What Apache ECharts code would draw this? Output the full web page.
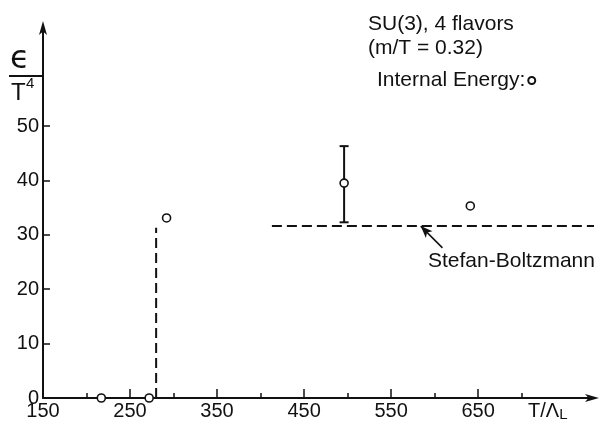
<!DOCTYPE html>
<html>
<head>
<meta charset="utf-8">
<script src="https://cdn.jsdelivr.net/npm/echarts@6/dist/echarts.min.js"></script>
<style>
html,body{margin:0;padding:0;background:#fff;}
#chart{width:602px;height:427px;}
</style>
</head>
<body>
<div id="chart"></div>
<script>
// ---- data ----
const temperatures = [217, 272, 292, 496, 641];          // T / Lambda_L
const energyValues = [0, 0, 33.1, 39.5, 35.3];            // epsilon / T^4
const errorBars = [[496, 32.3, 46.3]];                    // [T, low, high]
const stefanBoltzmannLevel = 31.6;
const stefanBoltzmannRange = [413, 792];
const transitionT = 280;
const transitionTop = 31.3;
const arrowFrom = [609, 27.6];
const arrowTo = [584, 31.6];
const xLabelValues = [150, 250, 350, 450, 550, 650];
const xMajorTicks = [250, 350, 450, 550, 650];
const xMinorTicks = [200, 300, 400, 500, 600, 700];
const yLabelValues = [0, 10, 20, 30, 40, 50];
const yTickValues = [10, 20, 30, 40, 50];

const FONT = '"Liberation Sans", Arial, sans-serif';
const INK = '#111';

const chart = echarts.init(document.getElementById('chart'), null, {renderer: 'canvas'});

const scatterData = temperatures.map((t, i) => [t, energyValues[i]]);

chart.setOption({
  animation: false,
  backgroundColor: '#fff',
  grid: {left: 43, right: 9, top: 27, bottom: 29, containLabel: false},
  legend: {
    data: ['Internal Energy:'],
    left: 372, top: 65,
    align: 'right',
    itemWidth: 7, itemHeight: 7, itemGap: 0,
    textStyle: {fontFamily: FONT, fontSize: 21, color: INK, padding: [0, -2, 0, 0]},
    selectedMode: false
  },
  xAxis: [{
    type: 'value', min: 150, max: 782,
    axisLine: {show: true, lineStyle: {color: INK, width: 2}, symbol: ['none', 'arrow'], symbolSize: [6, 14], symbolOffset: [0, 6]},
    axisTick: {show: true, inside: true, length: 9, lineStyle: {color: INK, width: 1.5}, customValues: xMajorTicks},
    axisLabel: {show: true, fontFamily: FONT, fontSize: 20, color: INK, margin: 3, customValues: xLabelValues},
    splitLine: {show: false}
  }, {
    type: 'value', min: 150, max: 782, position: 'bottom',
    axisLine: {show: false},
    axisTick: {show: true, inside: true, length: 5, lineStyle: {color: INK, width: 1.5}, customValues: xMinorTicks},
    axisLabel: {show: false},
    splitLine: {show: false}
  }],
  yAxis: {
    type: 'value', min: 0, max: 68.2,
    axisLine: {show: true, lineStyle: {color: INK, width: 2}, symbol: ['none', 'arrow'], symbolSize: [6, 14], symbolOffset: [0, 6]},
    axisTick: {show: true, inside: true, length: 7, lineStyle: {color: INK, width: 1.5}, customValues: yTickValues},
    axisLabel: {show: true, fontFamily: FONT, fontSize: 20, color: INK, margin: 4, customValues: yLabelValues},
    splitLine: {show: false}
  },
  series: [
    {
      type: 'line', name: 'transition', silent: true, clip: false, symbol: 'none',
      data: [[transitionT, 0], [transitionT, transitionTop]],
      lineStyle: {color: INK, width: 2, type: [10, 5]}, z: 3
    },
    {
      type: 'line', name: 'Stefan-Boltzmann', silent: true, clip: false, symbol: 'none',
      data: [[stefanBoltzmannRange[0], stefanBoltzmannLevel], [stefanBoltzmannRange[1], stefanBoltzmannLevel]],
      lineStyle: {color: INK, width: 2, type: [10, 5]}, z: 3,
      markLine: {
        silent: true, symbol: ['none', 'arrow'], symbolSize: [7, 12],
        label: {show: false},
        lineStyle: {color: INK, width: 1.5, type: 'solid'},
        data: [[{coord: arrowFrom}, {coord: arrowTo}]]
      }
    },
    {
      type: 'custom', name: 'error', silent: true, clip: false, z: 4,
      data: errorBars,
      renderItem: function (params, api) {
        const x = api.value(0);
        const lo = api.coord([x, api.value(1)]);
        const hi = api.coord([x, api.value(2)]);
        const w = 4.5;
        const style = {stroke: INK, lineWidth: 2};
        return {type: 'group', children: [
          {type: 'line', shape: {x1: lo[0], y1: lo[1], x2: hi[0], y2: hi[1]}, style: style},
          {type: 'line', shape: {x1: lo[0] - w, y1: lo[1], x2: lo[0] + w, y2: lo[1]}, style: style},
          {type: 'line', shape: {x1: hi[0] - w, y1: hi[1], x2: hi[0] + w, y2: hi[1]}, style: style}
        ]};
      }
    },
    {
      type: 'scatter', name: 'Internal Energy:', clip: false, z: 6,
      symbol: 'circle', symbolSize: 8,
      itemStyle: {color: '#fff', borderColor: INK, borderWidth: 1.6, opacity: 1},
      data: scatterData
    }
  ],
  graphic: [
    {type: 'text', left: 368, top: 14, style: {text: 'SU(3), 4 flavors', font: '21px ' + FONT, fill: INK}},
    {type: 'text', left: 368, top: 38, style: {text: '(m/T = 0.32)', font: '21px ' + FONT, fill: INK}},
    {type: 'text', left: 428, top: 251, style: {text: 'Stefan-Boltzmann', font: '21px ' + FONT, fill: INK}},
    // y-axis name: epsilon over T^4
    {type: 'text', left: 10, top: 44, style: {text: 'ϵ', font: '32px "DejaVu Sans", sans-serif', fill: INK}},
    {type: 'line', shape: {x1: 9, y1: 76, x2: 42, y2: 76}, style: {stroke: INK, lineWidth: 1.8}},
    {type: 'text', left: 11, top: 81, style: {text: 'T', font: '24px ' + FONT, fill: INK}},
    {type: 'text', left: 26, top: 76, style: {text: '4', font: '15px ' + FONT, fill: INK}},
    // x-axis name: T / Lambda_L
    {type: 'text', left: 528, top: 401, style: {
      text: '{a|T/Λ}{b|L}', fill: INK,
      rich: {a: {font: '20px ' + FONT, fill: INK}, b: {font: '15px ' + FONT, fill: INK, padding: [8, 0, 0, 0]}}
    }}
  ]
});
</script>
</body>
</html>
